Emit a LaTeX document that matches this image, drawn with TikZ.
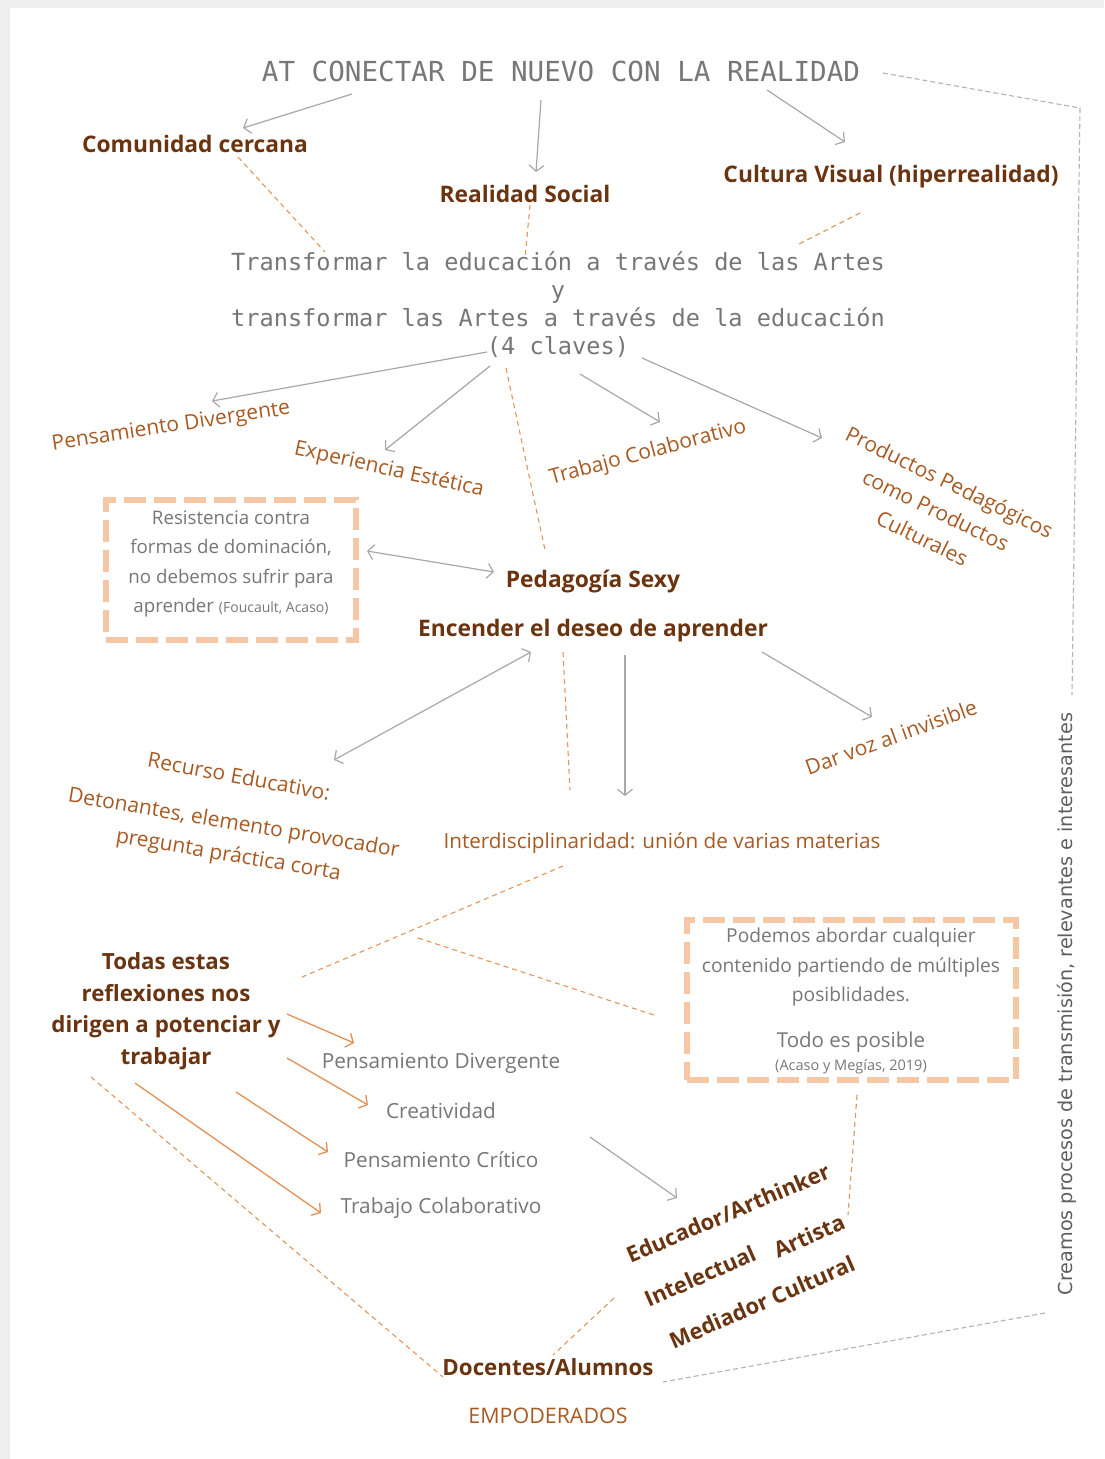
\documentclass[tikz,border=0pt]{standalone}
\usepackage{fontspec}
\setmainfont{Open Sans}
\newfontfamily\monof{DejaVu Sans Mono}
\newfontfamily\creamf{DejaVu Sans}
\usetikzlibrary{arrows.meta}
\definecolor{brownc}{HTML}{6B3410}
\definecolor{orangec}{HTML}{A85A22}
\definecolor{dashor}{HTML}{E4955A}
\definecolor{boxor}{HTML}{F6C7A5}
\definecolor{arrgray}{HTML}{A8A8A8}
\definecolor{txtgray}{HTML}{777777}
\definecolor{creamgray}{HTML}{5E5E5E}
\definecolor{dgray}{HTML}{B3B3B3}
\definecolor{arror}{HTML}{E39054}
\definecolor{bggray}{HTML}{EEEEEE}
\begin{document}
\begin{tikzpicture}[x=1pt,y=-1pt,
  brownbold/.style={text=brownc,font=\bfseries\fontsize{22.8}{31.5}\selectfont,inner sep=0pt,align=center},
  orangetxt/.style={text=orangec,font=\fontsize{21}{31}\selectfont,inner sep=0pt,align=center},
  graytxt/.style={text=txtgray,font=\fontsize{20.8}{30}\selectfont,inner sep=0pt,align=center},
  boxtxt/.style={text=txtgray,font=\fontsize{18.7}{29.3}\selectfont,inner sep=0pt,align=center},
  monotxt/.style={text=txtgray,font=\monof\fontsize{23.6}{28}\selectfont,inner sep=0pt,align=center},
  ga/.style={draw=arrgray,line width=1.2pt,-{Straight Barb[length=6pt,width=15pt]}},
  gaa/.style={draw=arrgray,line width=1.2pt,{Straight Barb[length=6pt,width=15pt]}-{Straight Barb[length=6pt,width=15pt]}},
  oa/.style={draw=arror,line width=1.3pt,-{Straight Barb[length=6pt,width=15pt]}},
  od/.style={draw=dashor,line width=1.1pt,dash pattern=on 5pt off 4pt},
  gd/.style={draw=dgray,line width=1.1pt,dash pattern=on 5pt off 3pt},
  boxd/.style={draw=boxor,line width=5.5pt,dash pattern=on 22pt off 8pt,inner sep=0pt}]
\useasboundingbox (0,0) rectangle (1104,1459);
\fill[bggray] (0,0) rectangle (1104,1459);
\fill[white] (10,8) rectangle (1104,1459);

% ---- nodes ----
\node[text=txtgray,font=\monof\fontsize{27.6}{30}\selectfont,inner sep=0pt] (title) at (561,71) {AT CONECTAR DE NUEVO CON LA REALIDAD};
\node[brownbold] (com) at (195,144) {Comunidad cercana};
\node[brownbold] (real) at (525,194) {Realidad Social};
\node[brownbold] (cult) at (891,177) {Cultura Visual (hiperrealidad)};
\node[monotxt] (trans) at (558,305) {Transformar la educación a través de las Artes\\y\\transformar las Artes a través de la educación\\(4 claves)};

\node[orangetxt,rotate=8.6] (pd1) at (171,427) {Pensamiento Divergente};
\node[orangetxt,rotate=-12.5] (ee) at (389,470) {Experiencia Estética};
\node[orangetxt,rotate=15] (tc1) at (648,453) {Trabajo Colaborativo};
\node[orangetxt,rotate=-26,font=\fontsize{21}{31}\selectfont] (pp) at (936,510) {Productos Pedagógicos\\como Productos\\Culturales};

\node[boxd,minimum width=250pt,minimum height=140pt] (box1) at (231,570) {};
\node[boxtxt] (box1t) at (231,564) {Resistencia contra\\formas de dominación,\\no debemos sufrir para\\aprender {\fontsize{14}{16}\selectfont(Foucault, Acaso)}};

\node[brownbold] (sexy) at (593,581) {Pedagogía Sexy};
\node[brownbold] (enc) at (593,631) {Encender el deseo de aprender};

\node[orangetxt,rotate=20] (dv) at (891,737) {Dar voz al invisible};
\node[orangetxt,rotate=-10.5] (re) at (239,776) {Recurso Educativo:};
\node[orangetxt,rotate=-9.5,font=\fontsize{21}{32}\selectfont] (det) at (231,840) {Detonantes, elemento provocador\\pregunta práctica corta};
\node[orangetxt,font=\fontsize{20.7}{24}\selectfont] (inter) at (662,843) {Interdisciplinaridad: unión de varias materias};

\node[boxd,minimum width=329pt,minimum height=160pt] (box2) at (851.5,1000) {};
\node[boxtxt,font=\fontsize{19.2}{29.3}\selectfont] (box2t) at (851,967) {Podemos abordar cualquier\\contenido partiendo de múltiples\\posiblidades.};
\node[text=txtgray,font=\fontsize{20.5}{24}\selectfont,inner sep=0pt] (todo) at (851,1042) {Todo es posible};
\node[text=txtgray,font=\fontsize{14.5}{16}\selectfont,inner sep=0pt] (acaso) at (851,1067) {(Acaso y Megías, 2019)};

\node[brownbold,font=\bfseries\fontsize{22.3}{31.6}\selectfont] (todas) at (166,1011) {Todas estas\\reflexiones nos\\dirigen a potenciar y\\trabajar};

\node[graytxt] (pd2) at (441,1063) {Pensamiento Divergente};
\node[graytxt] (cre) at (441,1111) {Creatividad};
\node[graytxt] (pc) at (441,1160) {Pensamiento Crítico};
\node[graytxt] (tc2) at (441,1208) {Trabajo Colaborativo};

\node[brownbold,font=\bfseries\fontsize{22}{30}\selectfont,rotate=23] (ed) at (728,1213) {Educador/Arthinker};
\node[brownbold,font=\bfseries\fontsize{22}{30}\selectfont,rotate=24] (int) at (700,1276) {Intelectual};
\node[brownbold,font=\bfseries\fontsize{22}{30}\selectfont,rotate=24] (art) at (809,1236) {Artista};
\node[brownbold,font=\bfseries\fontsize{22}{30}\selectfont,rotate=23.5] (med) at (762,1302) {Mediador Cultural};

\node[brownbold,font=\bfseries\fontsize{22.3}{30}\selectfont] (doc) at (548,1367) {Docentes/Alumnos};
\node[orangetxt,font=\fontsize{21.4}{24}\selectfont] (emp) at (548,1416) {EMPODERADOS};

\node[text=creamgray,font=\creamf\fontsize{19.2}{22}\selectfont,inner sep=0pt,rotate=90] (cream) at (1067,1004) {Creamos procesos de transmisión, relevantes e interesantes};

% ---- coordinates for connector ends ----
\coordinate (t1) at (352,94);   \coordinate (com1) at (243,128);
\coordinate (t2) at (541,100);  \coordinate (real1) at (536,172);
\coordinate (t3) at (767,90);   \coordinate (cult1) at (845,142);
\coordinate (t4) at (883,73);   \coordinate (rt) at (1080,108); \coordinate (rb) at (1072,695);
\coordinate (com2) at (238,157); \coordinate (tr1) at (325,252);
\coordinate (real2) at (530,205); \coordinate (tr2) at (525,258);
\coordinate (cult2) at (860,213); \coordinate (tr3) at (797,245);
\coordinate (k1) at (487,352); \coordinate (pd1a) at (212,401);
\coordinate (k2) at (490,366); \coordinate (eea) at (385,450);
\coordinate (k3) at (580,374); \coordinate (tc1a) at (660,422);
\coordinate (k4) at (642,358); \coordinate (ppa) at (822,438);
\coordinate (k5) at (506,368); \coordinate (sx1) at (545,550);
\coordinate (b1r) at (367,551); \coordinate (sx2) at (494,572);
\coordinate (e1) at (531,652); \coordinate (rea) at (334,760);
\coordinate (e2) at (563,652); \coordinate (in1) at (570,790);
\coordinate (e3) at (625,655); \coordinate (in2) at (625,796);
\coordinate (e4) at (762,652); \coordinate (dva) at (872,717);
\coordinate (in3) at (563,866); \coordinate (td1) at (302,977);
\coordinate (in4) at (418,938); \coordinate (b2l) at (657,1016);
\coordinate (td2) at (287,1014); \coordinate (pd2a) at (354,1043);
\coordinate (td3) at (287,1058); \coordinate (crea) at (368,1105);
\coordinate (td4) at (236,1092); \coordinate (pca) at (328,1152);
\coordinate (td5) at (135,1083); \coordinate (tc2a) at (321,1213);
\coordinate (td6) at (91,1077); \coordinate (doc1) at (443,1377);
\coordinate (cr1) at (590,1137); \coordinate (eda) at (677,1198);
\coordinate (b2b) at (857,1095); \coordinate (arta) at (848,1215);
\coordinate (int1) at (614,1298); \coordinate (doc2) at (553,1355);
\coordinate (cb) at (1045,1313); \coordinate (doc3) at (663,1382);

% ---- connectors ----
\draw[ga] (t1) -- (com1);
\draw[ga] (t2) -- (real1);
\draw[ga] (t3) -- (cult1);
\draw[gd] (t4) -- (rt) -- (rb);
\draw[od] (com2) -- (tr1);
\draw[od] (real2) -- (tr2);
\draw[od] (cult2) -- (tr3);
\draw[ga] (k1) -- (pd1a);
\draw[ga] (k2) -- (eea);
\draw[ga] (k3) -- (tc1a);
\draw[ga] (k4) -- (ppa);
\draw[od] (k5) -- (sx1);
\draw[gaa] (b1r) -- (sx2);
\draw[gaa] (e1) -- (rea);
\draw[od] (e2) -- (in1);
\draw[ga] (e3) -- (in2);
\draw[ga] (e4) -- (dva);
\draw[od] (in3) -- (td1);
\draw[od] (in4) -- (b2l);
\draw[oa] (td2) -- (pd2a);
\draw[oa] (td3) -- (crea);
\draw[oa] (td4) -- (pca);
\draw[oa] (td5) -- (tc2a);
\draw[od] (td6) -- (doc1);
\draw[ga] (cr1) -- (eda);
\draw[od] (b2b) -- (arta);
\draw[od] (int1) -- (doc2);
\draw[gd] (cb) -- (doc3);
\end{tikzpicture}
\end{document}
